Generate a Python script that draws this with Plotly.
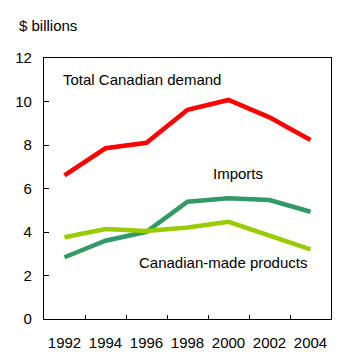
import plotly.graph_objects as go

years = ["1992", "1994", "1996", "1998", "2000", "2002", "2004"]
total_demand = [6.6, 7.85, 8.1, 9.62, 10.07, 9.27, 8.23]
imports = [2.84, 3.6, 4.01, 5.39, 5.55, 5.47, 4.93]
canadian_made = [3.76, 4.14, 4.05, 4.21, 4.47, 3.83, 3.2]
y_ticks = [0, 2, 4, 6, 8, 10, 12]

FONT = "Liberation Sans, Arial, sans-serif"

fig = go.Figure()
fig.add_trace(go.Scatter(x=years, y=total_demand, mode="lines",
                         line=dict(color="#FF0000", width=4.5), name="Total Canadian demand"))
fig.add_trace(go.Scatter(x=years, y=imports, mode="lines",
                         line=dict(color="#339966", width=4.5), name="Imports"))
fig.add_trace(go.Scatter(x=years, y=canadian_made, mode="lines",
                         line=dict(color="#99CC00", width=4.5), name="Canadian-made products"))

fig.update_layout(
    width=351, height=356,
    margin=dict(l=44, r=20, t=58, b=37),
    paper_bgcolor="white", plot_bgcolor="white",
    showlegend=False,
    font=dict(family=FONT, size=15, color="#000000"),
    xaxis=dict(type="category", tickson="boundaries", ticks="inside", ticklen=4,
               tickcolor="black", showline=True, linecolor="black", linewidth=1.2,
               mirror=True, showgrid=False, zeroline=False, range=[-0.5, 6.5],
               tickangle=0, automargin=False,
               ticklabelstandoff=10, tickfont=dict(size=15)),
    yaxis=dict(range=[0, 12], tickvals=y_ticks, ticks="inside", ticklen=5,
               tickcolor="black", showline=True, linecolor="black", linewidth=1.2,
               mirror=True, showgrid=False, zeroline=False, automargin=False,
               ticklabelstandoff=8, tickfont=dict(size=15)),
    annotations=[
        dict(text="$ billions", xref="paper", yref="paper", x=-0.094, y=1.125,
             xanchor="left", yanchor="middle", showarrow=False, font=dict(size=15)),
        dict(text="Total Canadian demand", xref="paper", yref="paper", x=0.059, y=0.916,
             xanchor="left", yanchor="middle", showarrow=False, font=dict(size=15)),
        dict(text="Imports", xref="paper", yref="paper", x=0.676, y=0.559,
             xanchor="center", yanchor="middle", showarrow=False, font=dict(size=15)),
        dict(text="Canadian-made products", xref="paper", yref="paper", x=0.624, y=0.218,
             xanchor="center", yanchor="middle", showarrow=False, font=dict(size=15)),
    ],
)

fig.write_html("out.html")
